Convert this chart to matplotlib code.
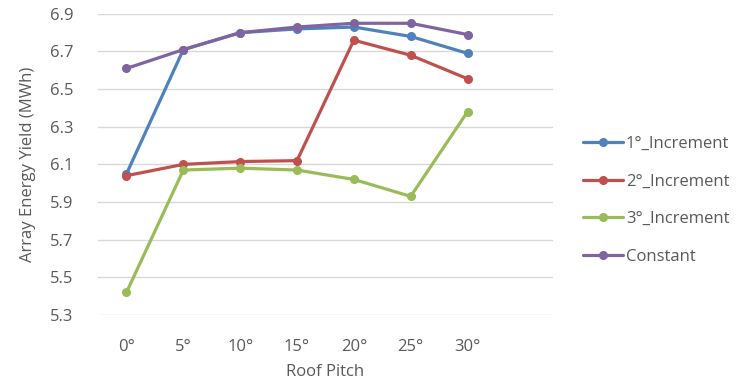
import numpy as np
from matplotlib import pyplot as plt

# roof pitch categories (last slot left empty, like the source workbook)
pitch = ["0°", "5°", "10°", "15°", "20°", "25°", "30°"]
inc1 = [6.05, 6.71, 6.80, 6.82, 6.83, 6.78, 6.69]
inc2 = [6.04, 6.10, 6.115, 6.12, 6.76, 6.68, 6.555]
inc3 = [5.42, 6.07, 6.08, 6.07, 6.02, 5.93, 6.38]
const = [6.61, 6.71, 6.80, 6.83, 6.85, 6.85, 6.79]

series = [
    ("1°_Increment", inc1, "#4F81BD"),
    ("2°_Increment", inc2, "#C0504D"),
    ("3°_Increment", inc3, "#9BBB59"),
    ("Constant", const, "#8064A2"),
]

plt.rcParams['font.family'] = ['Open Sans', 'DejaVu Sans']
grey = "#595959"
fs = 12

fig = plt.figure(figsize=(7.43, 3.85), dpi=100)
ax = fig.add_axes([0.132, 0.182, 0.612, 0.782])

x = np.arange(len(pitch))
for name, vals, col in series:
    ax.plot(x, vals, color=col, lw=2.3, marker="o", ms=5.5, label=name,
            solid_capstyle="round")

ax.set_xlim(-0.5, 7.5)
ax.set_ylim(5.3, 6.9)
yt = np.arange(5.3, 6.91, 0.2)
ax.set_yticks(yt)
ax.set_yticklabels([f"{v:.1f}" for v in yt])
ax.set_xticks(x)
ax.set_xticklabels(pitch)
ax.tick_params(length=0, colors=grey, labelsize=fs)
ax.tick_params(axis="x", pad=17)
ax.tick_params(axis="y", pad=18)
ax.grid(axis="y", color="#D9D9D9", lw=1)
ax.set_axisbelow(True)
for s in ax.spines.values():
    s.set_visible(False)

ax.set_xlabel("Roof Pitch", color=grey, fontsize=fs, labelpad=7)
ax.set_ylabel("Array Energy Yield (MWh)", color=grey, fontsize=fs, labelpad=10)

leg = fig.legend(*ax.get_legend_handles_labels(), loc="center left",
                 bbox_to_anchor=(0.765, 0.48), frameon=False,
                 fontsize=fs, labelspacing=1.3, handlelength=2.4,
                 handletextpad=0.15)
for t in leg.get_texts():
    t.set_color(grey)

plt.savefig("out.png", dpi=100)
